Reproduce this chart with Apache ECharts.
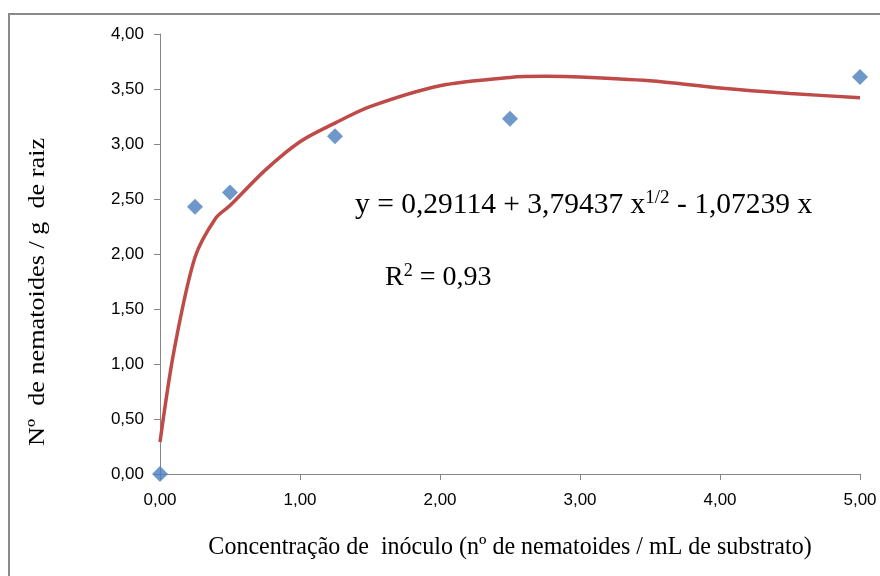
<!DOCTYPE html>
<html lang="pt">
<head>
<meta charset="UTF-8">
<title>Nematoides</title>
<script src="https://cdn.jsdelivr.net/npm/echarts@6/dist/echarts.min.js"></script>
</head>
<body style="margin:0;background:#fff;">
<div id="main" style="width:880px;height:576px;"></div>
<script>
// pontos observados
var obsX = [0, 0.25, 0.5, 1.25, 2.5, 5];
var obsY = [0, 2.43, 2.56, 3.07, 3.23, 3.61];
// curva ajustada
var fitX = [0, 0.1, 0.25, 0.4, 0.5, 0.75, 1, 1.25, 1.5, 2, 2.5, 2.75, 3, 3.5, 4, 4.5, 5];
var fitY = [0.29, 1.12, 1.97, 2.33, 2.44, 2.76, 3.02, 3.19, 3.34, 3.53, 3.605, 3.615, 3.61, 3.575, 3.51, 3.46, 3.42];

var myChart = echarts.init(document.getElementById('main'));

function fmt(v) {
    return v.toFixed(2).replace('.', ',');
}
var obs = [], fit = [];
for (var i = 0; i < obsX.length; i++) obs.push([obsX[i], obsY[i]]);
for (var i = 0; i < fitX.length; i++) fit.push([fitX[i], fitY[i]]);

var labelFont = {color: '#000', fontSize: 17, fontFamily: '"Liberation Sans", Arial, sans-serif'};
var serif = '"Liberation Serif", "DejaVu Serif", serif';

var option = {
    animation: false,
    grid: {left: 160, right: 20, top: 34, bottom: 102},
    xAxis: {
        type: 'value', min: 0, max: 5, interval: 1,
        axisLine: {lineStyle: {color: '#868686', width: 1}},
        axisTick: {show: true, length: 6, inside: false, lineStyle: {color: '#868686'}},
        axisLabel: Object.assign({margin: 18, formatter: fmt}, labelFont),
        splitLine: {show: false}
    },
    yAxis: {
        type: 'value', min: 0, max: 4, interval: 0.5,
        axisLine: {show: true, lineStyle: {color: '#868686', width: 1}},
        axisTick: {show: true, length: 6, lineStyle: {color: '#868686'}},
        axisLabel: Object.assign({margin: 16, formatter: fmt}, labelFont),
        splitLine: {show: false}
    },
    series: [{
        name: 'ajuste',
        type: 'line',
        data: fit,
        smooth: 0.3,
        showSymbol: false,
        lineStyle: {color: '#be4b48', width: 3.5},
        z: 2
    }, {
        name: 'observado',
        type: 'scatter',
        data: obs,
        symbol: 'diamond',
        symbolSize: 16,
        itemStyle: {color: '#4a7ebb'},
        z: 3
    }],
    graphic: [{
        type: 'rect',
        shape: {x: 9, y: 14, width: 900, height: 600},
        style: {fill: 'none', stroke: '#8a8a8a', lineWidth: 2},
        z: -1
    }, {
        type: 'text',
        x: 510, y: 547,
        scaleX: 0.96,
        style: {
            text: 'Concentração de  inóculo (nº de nematoides / mL de substrato)',
            font: '25px ' + serif, fill: '#000', align: 'center', verticalAlign: 'middle'
        }
    }, {
        type: 'text',
        x: 38, y: 292,
        rotation: Math.PI / 2,
        scaleX: 1.14,
        style: {
            text: 'Nº  de nematoides / g  de raiz',
            font: '23px ' + serif, fill: '#000', align: 'center', verticalAlign: 'middle'
        }
    }, {
        type: 'text',
        x: 355, y: 222,
        style: {
            text: '{a|y = 0,29114 + 3,79437 x}{s|1/2}{a| - 1,07239 x}',
            fill: '#000', verticalAlign: 'bottom',
            rich: {
                a: {font: '29.5px ' + serif, fill: '#000'},
                s: {font: '19px ' + serif, fill: '#000', padding: [0, 0, 14, 0]}
            }
        }
    }, {
        type: 'text',
        x: 385, y: 294,
        style: {
            text: '{a|R}{s|2}{a| = 0,93}',
            fill: '#000', verticalAlign: 'bottom',
            rich: {
                a: {font: '28px ' + serif, fill: '#000'},
                s: {font: '18px ' + serif, fill: '#000', padding: [0, 0, 14, 0]}
            }
        }
    }]
};
myChart.setOption(option);
</script>
</body>
</html>
